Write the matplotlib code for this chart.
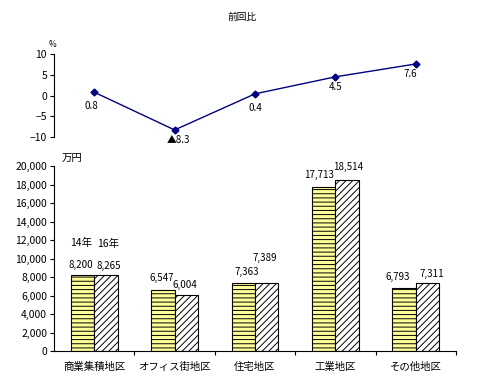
import numpy as np
import matplotlib
matplotlib.use('Agg')
import matplotlib.pyplot as plt
from matplotlib.ticker import FuncFormatter

plt.rcParams['font.family'] = ['Noto Sans CJK JP', 'DejaVu Sans']
plt.rcParams['hatch.linewidth'] = 0.7
plt.rcParams['hatch.color'] = 'black'

# data
districts = ['商業集積地区', 'オフィス街地区', '住宅地区', '工業地区', 'その他地区']
price_14 = [8200, 6547, 7363, 17713, 6793]    # 14年 [万円]
price_16 = [8265, 6004, 7389, 18514, 7311]    # 16年 [万円]
change = [0.8, -8.3, 0.4, 4.5, 7.6]          # 前回比 [%]
change_labels = ['0.8', '▲8.3', '0.4', '4.5', '7.6']

# label offsets in pixels (dx, dy)
off_14 = [(-2, 10), (-1, 12), (4, 11), (-5, 12), (-6, 11)]
off_16 = [(3, 9), (-1, 10), (-2, 25), (1, 13), (4, 9)]
off_chg = [(-3, -14), (4, -10), (0, -14), (0, -10), (-5, -10)]

fig = plt.figure(figsize=(4.8, 3.91), dpi=100)
x = np.arange(len(districts))

# upper panel: change in percent
ax1 = fig.add_axes([0.1125, 0.6496, 0.8375, 0.2123])
ax1.plot(x, change, color='#000080', lw=1, marker='D', ms=3.5,
         markerfacecolor='#000080', markeredgecolor='#000080')
for i, (v, lab) in enumerate(zip(change, change_labels)):
    ax1.annotate(lab, (x[i], v), xytext=off_chg[i], textcoords='offset pixels',
                 ha='center', va='center', fontsize=7)
ax1.set_xlim(-0.5, 4.5)
ax1.set_ylim(-10, 10)
ax1.set_yticks([-10, -5, 0, 5, 10])
ax1.yaxis.set_major_formatter(FuncFormatter(lambda v, p: f'{v:.0f}'.replace('-', '−')))
ax1.set_xticks([])
for s in ['top', 'right', 'bottom']:
    ax1.spines[s].set_visible(False)
ax1.spines['left'].set_linewidth(0.8)
ax1.tick_params(axis='y', length=3, width=0.8, labelsize=7.5, pad=2)
ax1.patch.set_alpha(0)
fig.text(0.1104, 0.885, '%', fontsize=6, ha='center', va='center')
fig.text(0.504, 0.957, '前回比', fontsize=7, ha='center', va='center')

# lower panel: prices
ax2 = fig.add_axes([0.1125, 0.1023, 0.8375, 0.4731])
w = 0.292
ax2.bar(x - w / 2, price_14, w, color='#FFFF99', edgecolor='black',
        hatch='----', lw=0.8)
ax2.bar(x + w / 2, price_16, w, color='white', edgecolor='black',
        hatch='/////', lw=0.8)
for i in range(len(x)):
    ax2.annotate(f'{price_14[i]:,}', (x[i] - w / 2, price_14[i]),
                 xytext=off_14[i], textcoords='offset pixels',
                 ha='center', va='center', fontsize=7)
    ax2.annotate(f'{price_16[i]:,}', (x[i] + w / 2, price_16[i]),
                 xytext=off_16[i], textcoords='offset pixels',
                 ha='center', va='center', fontsize=7)
ax2.annotate('14年', (x[0] - w / 2, price_14[0]), xytext=(-1, 32),
             textcoords='offset pixels', ha='center', va='center', fontsize=7.5)
ax2.annotate('16年', (x[0] + w / 2, price_16[0]), xytext=(2, 31),
             textcoords='offset pixels', ha='center', va='center', fontsize=7.5)

ax2.set_xlim(-0.5, 4.5)
ax2.set_ylim(0, 20000)
ax2.set_yticks(np.arange(0, 20001, 2000))
ax2.yaxis.set_major_formatter(FuncFormatter(lambda v, p: f'{v:,.0f}'))
ax2.set_xticks(x)
ax2.set_xticklabels(districts, fontsize=7.5)
ax2.set_xticks(np.arange(0.5, 4.6, 1), minor=True)
ax2.tick_params(axis='x', which='major', length=0, pad=8)
ax2.tick_params(axis='x', which='minor', length=3, width=0.8)
ax2.tick_params(axis='y', length=3, width=0.8, labelsize=7.5, pad=2)
for s in ['top', 'right']:
    ax2.spines[s].set_visible(False)
for s in ['left', 'bottom']:
    ax2.spines[s].set_linewidth(0.8)
fig.text(0.15, 0.597, '万円', fontsize=7.5, ha='center', va='center')

fig.savefig('out.png', dpi=100)
